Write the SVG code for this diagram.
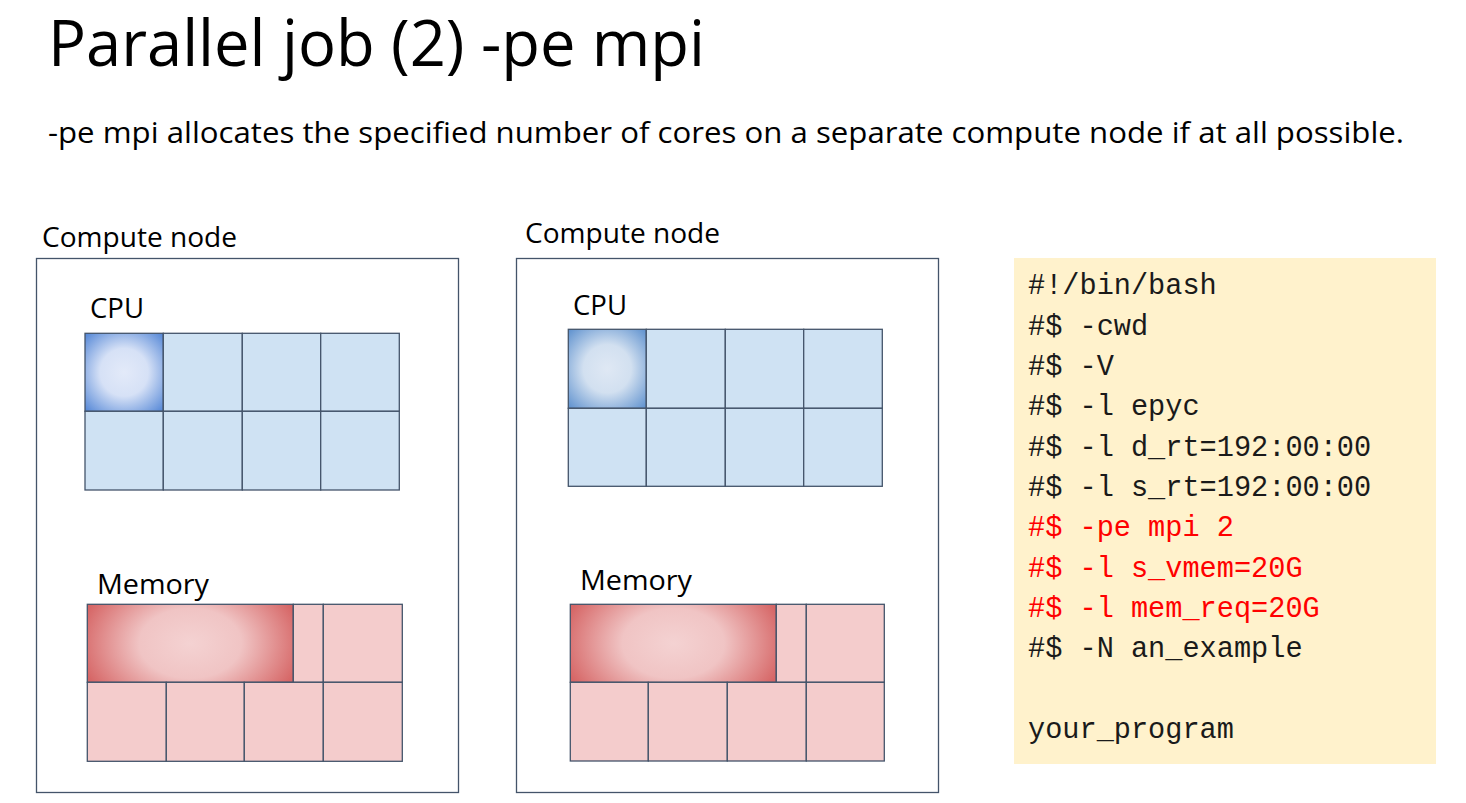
<svg xmlns="http://www.w3.org/2000/svg" width="1466" height="803" viewBox="0 0 1466 803">
  <defs>
    <radialGradient id="cpuGrad" cx="0.5" cy="0.5" r="0.68">
      <stop offset="0" stop-color="#E3EAF9"/>
      <stop offset="0.45" stop-color="#D6E1F6"/>
      <stop offset="1" stop-color="#5A8BD8"/>
    </radialGradient>
    <radialGradient id="cpuGrad2" cx="0.5" cy="0.5" r="0.68">
      <stop offset="0" stop-color="#DFE8F4"/>
      <stop offset="0.45" stop-color="#D2E0F0"/>
      <stop offset="1" stop-color="#6495D0"/>
    </radialGradient>
    <radialGradient id="memGrad" cx="0.5" cy="0.5" r="0.5" gradientTransform="translate(0.5,0.5) scale(1.1,2) translate(-0.5,-0.5)">
      <stop offset="0" stop-color="#F4D2D2"/>
      <stop offset="0.45" stop-color="#F0C4C4"/>
      <stop offset="1" stop-color="#D66666"/>
    </radialGradient>
    <style>
      .frame { fill: #FFFFFF; stroke: #44546A; stroke-width: 1.3; }
      .cpu { fill: #CFE2F3; stroke: #44546A; stroke-width: 1.3; }
      .cpuOn { fill: url(#cpuGrad); stroke: #44546A; stroke-width: 1.3; }
      .cpuOn2 { fill: url(#cpuGrad2); stroke: #44546A; stroke-width: 1.3; }
      .mem { fill: #F4CCCC; stroke: #44546A; stroke-width: 1.3; }
      .memOn { fill: url(#memGrad); stroke: #44546A; stroke-width: 1.3; }
      .sans { font-family: "Open Sans", "Noto Sans", "Liberation Sans", sans-serif; fill: #000000; }
      .code { font-family: "Liberation Mono", "DejaVu Sans Mono", monospace; font-size: 28.6px; fill: #1A1A1A; }
      .red { fill: #FF0000; }
    </style>
  </defs>
  <rect x="0" y="0" width="1466" height="803" fill="#FFFFFF"/>

  <g id="title">
    <text class="sans" x="48" y="66" font-size="64" textLength="657" lengthAdjust="spacingAndGlyphs">Parallel job (2) -pe mpi</text>
    <text class="sans" x="48" y="143" font-size="29" textLength="1356" lengthAdjust="spacingAndGlyphs">-pe mpi allocates the specified number of cores on a separate compute node if at all possible.</text>
  </g>

  <g id="node-left">
    <text class="sans" x="42" y="247" font-size="28" textLength="195" lengthAdjust="spacingAndGlyphs">Compute node</text>
    <rect class="frame" x="36.5" y="258.5" width="422" height="534"/>
    <text class="sans" x="90" y="318" font-size="28" textLength="54" lengthAdjust="spacingAndGlyphs">CPU</text>
    <g id="cpu-left">
      <rect class="cpuOn" x="85" y="333.3" width="78.3" height="78"/>
      <rect class="cpu" x="163.3" y="333.3" width="79" height="78"/>
      <rect class="cpu" x="242.3" y="333.3" width="78.4" height="78"/>
      <rect class="cpu" x="320.7" y="333.3" width="78.6" height="78"/>
      <rect class="cpu" x="85" y="411.3" width="78.3" height="78.7"/>
      <rect class="cpu" x="163.3" y="411.3" width="79" height="78.7"/>
      <rect class="cpu" x="242.3" y="411.3" width="78.4" height="78.7"/>
      <rect class="cpu" x="320.7" y="411.3" width="78.6" height="78.7"/>
    </g>
    <text class="sans" x="97" y="594" font-size="28" textLength="112" lengthAdjust="spacingAndGlyphs">Memory</text>
    <g id="mem-left">
      <rect class="memOn" x="87.3" y="604.3" width="206" height="78"/>
      <rect class="mem" x="293.3" y="604.3" width="30" height="78"/>
      <rect class="mem" x="323.3" y="604.3" width="79" height="78"/>
      <rect class="mem" x="87.3" y="682.3" width="79" height="79"/>
      <rect class="mem" x="166.3" y="682.3" width="78" height="79"/>
      <rect class="mem" x="244.3" y="682.3" width="79" height="79"/>
      <rect class="mem" x="323.3" y="682.3" width="79" height="79"/>
    </g>
  </g>

  <g id="node-right">
    <text class="sans" x="525" y="243" font-size="28" textLength="195" lengthAdjust="spacingAndGlyphs">Compute node</text>
    <rect class="frame" x="516.5" y="258.5" width="422" height="534"/>
    <text class="sans" x="573" y="315" font-size="28" textLength="54" lengthAdjust="spacingAndGlyphs">CPU</text>
    <g id="cpu-right">
      <rect class="cpuOn2" x="568.3" y="329.3" width="78" height="79"/>
      <rect class="cpu" x="646.3" y="329.3" width="79" height="79"/>
      <rect class="cpu" x="725.3" y="329.3" width="78.4" height="79"/>
      <rect class="cpu" x="803.7" y="329.3" width="78.6" height="79"/>
      <rect class="cpu" x="568.3" y="408.3" width="78" height="78"/>
      <rect class="cpu" x="646.3" y="408.3" width="79" height="78"/>
      <rect class="cpu" x="725.3" y="408.3" width="78.4" height="78"/>
      <rect class="cpu" x="803.7" y="408.3" width="78.6" height="78"/>
    </g>
    <text class="sans" x="580" y="590" font-size="28" textLength="112" lengthAdjust="spacingAndGlyphs">Memory</text>
    <g id="mem-right">
      <rect class="memOn" x="570.3" y="604.3" width="206" height="78"/>
      <rect class="mem" x="776.3" y="604.3" width="30" height="78"/>
      <rect class="mem" x="806.3" y="604.3" width="78" height="78"/>
      <rect class="mem" x="570.3" y="682.3" width="78" height="78.7"/>
      <rect class="mem" x="648.3" y="682.3" width="79" height="78.7"/>
      <rect class="mem" x="727.3" y="682.3" width="79" height="78.7"/>
      <rect class="mem" x="806.3" y="682.3" width="78" height="78.7"/>
    </g>
  </g>

  <g id="script-box">
    <rect x="1014" y="258" width="422" height="506" fill="#FFF2CC"/>
    <text class="code" x="1028" y="294.3">#!/bin/bash</text>
    <text class="code" x="1028" y="334.6">#$ -cwd</text>
    <text class="code" x="1028" y="375">#$ -V</text>
    <text class="code" x="1028" y="415.3">#$ -l epyc</text>
    <text class="code" x="1028" y="455.7">#$ -l d_rt=192:00:00</text>
    <text class="code" x="1028" y="496">#$ -l s_rt=192:00:00</text>
    <text class="code red" x="1028" y="536.4">#$ -pe mpi 2</text>
    <text class="code red" x="1028" y="576.7">#$ -l s_vmem=20G</text>
    <text class="code red" x="1028" y="617.1">#$ -l mem_req=20G</text>
    <text class="code" x="1028" y="657.4">#$ -N an_example</text>
    <text class="code" x="1028" y="738.1">your_program</text>
  </g>
</svg>
